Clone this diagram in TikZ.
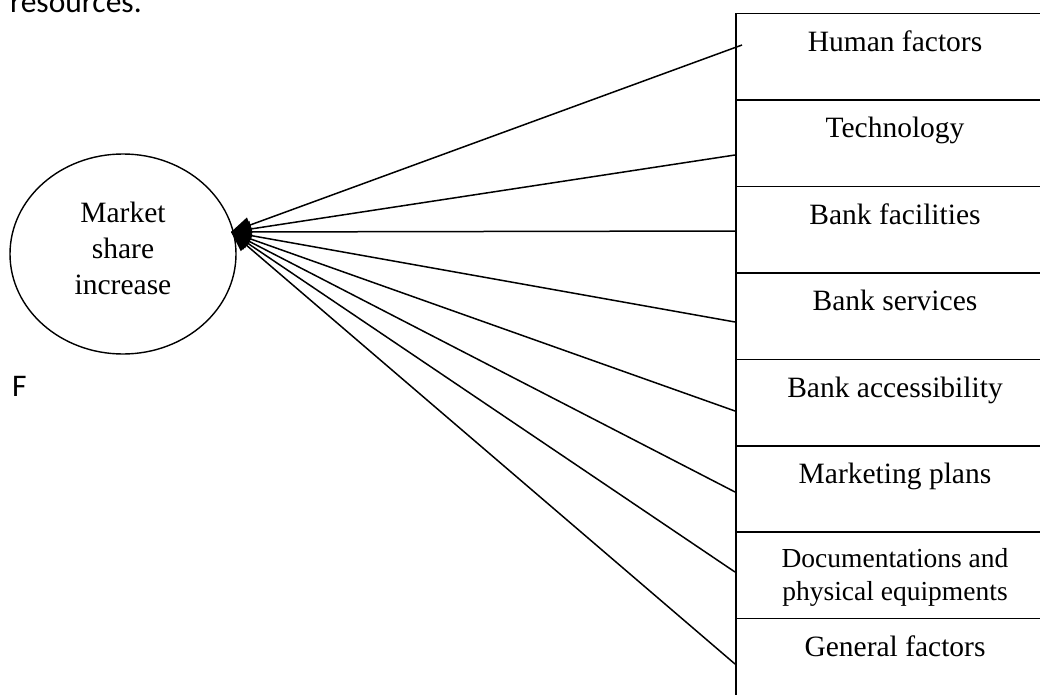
\documentclass[tikz,border=0pt]{standalone}
\usepackage{fontspec}
\setmainfont{Liberation Serif}
\newfontfamily\calib{Carlito}
\usetikzlibrary{arrows.meta,shapes.geometric}
\tikzset{
  lbl/.style={anchor=base,inner sep=0pt,font=\fontsize{29.5}{34}\selectfont},
  smalllbl/.style={anchor=base,inner sep=0pt,font=\fontsize{27.5}{33}\selectfont},
  boxcell/.style={draw,line width=1.5pt,rectangle,minimum width=340pt,minimum height=86.4pt,anchor=north west,inner sep=0pt},
  conn/.style={line width=1.5pt,-{Triangle[length=20pt,width=16pt]}},
  bodytext/.style={anchor=base west,inner sep=0pt,font=\calib\fontsize{31.5}{36}\selectfont}
}
\begin{document}
\begin{tikzpicture}[x=1pt,y=-1pt]
\useasboundingbox (0,0) rectangle (1040,695);
\clip (0,0) rectangle (1040,695);
% page text
\node[bodytext] (res) at (10,13) {resources.};
\node[bodytext] (f) at (12,396) {F};
% ellipse
\node[draw,ellipse,line width=1.4pt,minimum width=226pt,minimum height=200pt,inner sep=0pt] (ms) at (123,254) {};
\node[lbl] (t1) at (123,222) {Market};
\node[lbl] (t2) at (123,258) {share};
\node[lbl] (t3) at (123,294) {increase};
% boxes
\node[boxcell] (b1) at (735,13) {};
\node[boxcell] (b2) at (735,99.4) {};
\node[boxcell] (b3) at (735,185.8) {};
\node[boxcell] (b4) at (735,272.2) {};
\node[boxcell] (b5) at (735,358.6) {};
\node[boxcell] (b6) at (735,445) {};
\node[boxcell] (b7) at (735,531.4) {};
\node[boxcell,minimum height=120pt] (b8) at (735,617.8) {};
% box labels
\node[lbl] (l1) at (895,52) {Human factors};
\node[lbl] (l2) at (895,138) {Technology};
\node[lbl] (l3) at (895,224) {Bank facilities};
\node[lbl] (l4) at (895,310) {Bank services};
\node[lbl] (l5) at (895,397) {Bank accessibility};
\node[lbl] (l6) at (895,483) {Marketing plans};
\node[smalllbl] (l7a) at (895,567) {Documentations and};
\node[smalllbl] (l7b) at (895,600) {physical equipments};
\node[lbl] (l8) at (895,656) {General factors};
% connector ends
\coordinate (tip) at (231,232);
\coordinate (c1) at (742,45);
\coordinate (c2) at (735,155);
\coordinate (c3) at (735,231);
\coordinate (c4) at (735,322);
\coordinate (c5) at (735,411);
\coordinate (c6) at (735,492);
\coordinate (c7) at (735,572);
\coordinate (c8) at (735,664);
\foreach \c in {c1,c2,c3,c4,c5,c6,c7,c8}{
  \draw[conn] (\c) -- (tip);
}
\end{tikzpicture}
\end{document}
